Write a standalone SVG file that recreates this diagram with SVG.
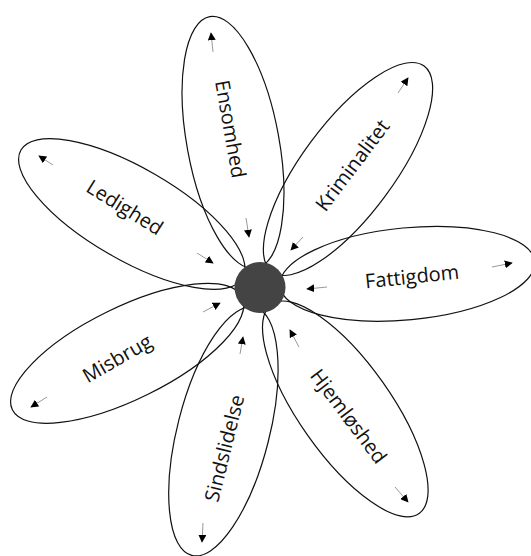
<svg xmlns="http://www.w3.org/2000/svg" width="531" height="556" viewBox="0 0 531 556">
<defs>
<marker id="ah" viewBox="0 0 10 10" refX="9" refY="5" markerWidth="8" markerHeight="8" markerUnits="userSpaceOnUse" orient="auto">
<path d="M0,0 L10,5 L0,10 Z" fill="#000"/>
</marker>
<style>
.petal{fill:none;stroke:#111;stroke-width:1.2}
.lbl{font-family:"Open Sans","Liberation Sans",sans-serif;font-size:20px;fill:#111;text-anchor:middle;dominant-baseline:central}
.arr{stroke:#999;stroke-width:1;fill:none;marker-end:url(#ah)}
</style>
</defs>
<rect width="531" height="556" fill="#fff"/>
<g id="petal-ensomhed">
<ellipse class="petal" cx="233" cy="142.5" rx="128" ry="46" transform="rotate(-100.5 233 142.5)"/>
<text class="lbl" transform="translate(231 129) rotate(80)">Ensomhed</text>
</g>
<g id="petal-kriminalitet">
<ellipse class="petal" cx="348" cy="169" rx="128" ry="46" transform="rotate(-53.5 348 169)"/>
<text class="lbl" transform="translate(352 165) rotate(-53)">Kriminalitet</text>
</g>
<g id="petal-fattigdom">
<ellipse class="petal" cx="407.3" cy="273.8" rx="128" ry="46" transform="rotate(-5.5 407.3 273.8)"/>
<text class="lbl" transform="translate(412 276) rotate(-6)">Fattigdom</text>
</g>
<g id="petal-hjemloshed">
<ellipse class="petal" cx="345.3" cy="408.9" rx="128" ry="46" transform="rotate(54.8 345.3 408.9)"/>
<text class="lbl" transform="translate(349 416) rotate(53)">Hjemløshed</text>
</g>
<g id="petal-sindslidelse">
<ellipse class="petal" cx="223.4" cy="431.4" rx="128" ry="46" transform="rotate(104.3 223.4 431.4)"/>
<text class="lbl" transform="translate(224 448) rotate(-76)">Sindslidelse</text>
</g>
<g id="petal-misbrug">
<ellipse class="petal" cx="127.2" cy="353.3" rx="128" ry="46" transform="rotate(153.8 127.2 353.3)"/>
<text class="lbl" transform="translate(117 358) rotate(-30)">Misbrug</text>
</g>
<g id="petal-ledighed">
<ellipse class="petal" cx="131.8" cy="214" rx="128" ry="46" transform="rotate(210 131.8 214)"/>
<text class="lbl" transform="translate(125 207) rotate(32)">Ledighed</text>
</g>
<g id="center">
<circle cx="260" cy="287.5" r="25.5" fill="#444"/>
</g>
<g id="connectors">
<line class="arr" x1="213" y1="52" x2="211" y2="33"/>
<line class="arr" x1="246" y1="218" x2="249" y2="237"/>
<line class="arr" x1="53" y1="165" x2="39" y2="156"/>
<line class="arr" x1="197" y1="253" x2="213" y2="263"/>
<line class="arr" x1="398" y1="93" x2="408" y2="78"/>
<line class="arr" x1="303" y1="237" x2="291" y2="250"/>
<line class="arr" x1="492" y1="267" x2="512" y2="263"/>
<line class="arr" x1="327" y1="287" x2="307" y2="289"/>
<line class="arr" x1="395" y1="487" x2="408" y2="502"/>
<line class="arr" x1="299" y1="347" x2="290" y2="330"/>
<line class="arr" x1="203" y1="523" x2="202" y2="542"/>
<line class="arr" x1="240" y1="354" x2="243" y2="337"/>
<line class="arr" x1="47" y1="397" x2="31" y2="407"/>
<line class="arr" x1="203" y1="312" x2="220" y2="303"/>
</g>
</svg>
